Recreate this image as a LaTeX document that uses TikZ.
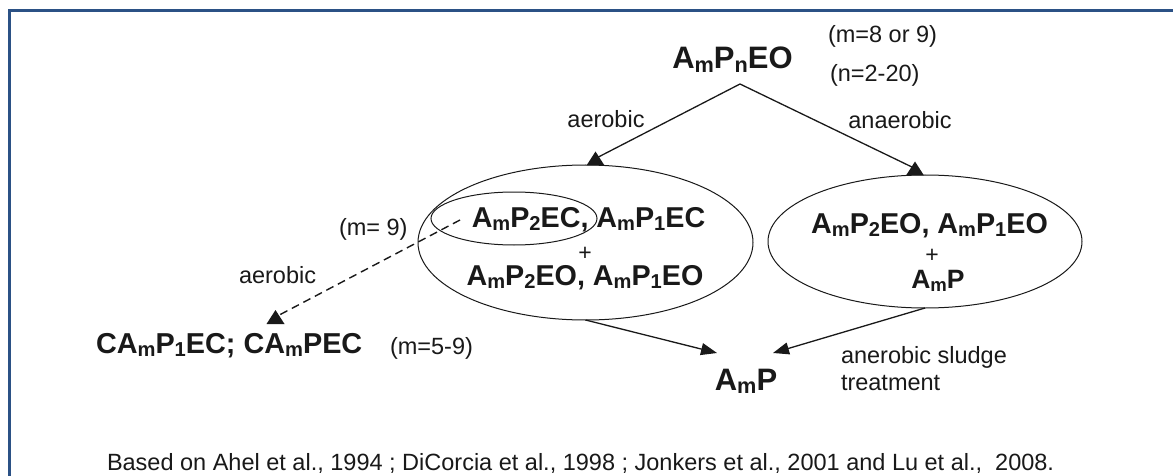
\documentclass[tikz,border=0pt]{standalone}
\usepackage{fontspec}
\setmainfont{Liberation Sans}
\usetikzlibrary{arrows.meta,shapes.geometric}
\newcommand{\sbx}[1]{\raisebox{-0.12em}{\scalebox{0.7}{#1}}}
\definecolor{frameblue}{RGB}{43,81,133}
\definecolor{ink}{RGB}{25,25,25}
\frenchspacing
\tikzset{
  uptri/.pic={\fill[ink] (0,-7) -- (-9,7) -- (9,7) -- cycle;}
}
\begin{document}
\begin{tikzpicture}[x=1pt,y=-1pt,
  every node/.style={inner sep=0pt, outer sep=0pt, text=ink},
  bigb/.style={font=\fontsize{31}{36}\selectfont\bfseries, anchor=base},
  midb/.style={font=\fontsize{28.7}{34}\selectfont\bfseries, anchor=base},
  smallb/.style={font=\fontsize{26.5}{32}\selectfont\bfseries, anchor=base},
  cab/.style={font=\fontsize{28.8}{33}\selectfont\bfseries, anchor=base west},
  lbl/.style={font=\fontsize{23.5}{27}\selectfont, anchor=base},
  lblw/.style={font=\fontsize{23.5}{27}\selectfont, anchor=base west},
  plus/.style={font=\fontsize{23}{25}\selectfont},
  oval/.style={draw=ink, ellipse, line width=1pt},
  conn/.style={draw=ink, line width=1.3pt},
  arr/.style={draw=ink, line width=1.3pt, -{Triangle[length=16pt,width=12pt]}},
  dconn/.style={draw=ink, line width=1.4pt, dash pattern=on 8pt off 5pt}
]
\useasboundingbox (0,0) rectangle (1173,476);
\fill[white] (0,0) rectangle (1173,476);
\draw[frameblue, line width=3pt] (9,476) -- (9,10.5) -- (1173,10.5);

% top
\node[bigb] (top) at (732.5,69) {A\sbx{m}P\sbx{n}EO};
\node[lblw] (m89) at (828,43) {(m=8 or 9)};
\node[lblw] (n220) at (830,82) {(n=2-20)};
\node[lbl] (aer1) at (606,128) {aerobic};
\node[lbl] (anaer) at (900,129) {anaerobic};

% ellipses
\node[oval, minimum width=335pt, minimum height=155pt] (L) at (585.5,242.5) {};
\node[oval, minimum width=166pt, minimum height=53pt] (S) at (514,218.5) {};
\node[oval, minimum width=314pt, minimum height=133pt] (R) at (925,241.5) {};

\node[midb] (L1) at (588.5,227) {A\sbx{m}P\sbx{2}EC, A\sbx{m}P\sbx{1}EC};
\node[plus] (Lp) at (585,254) {+};
\node[midb] (L2) at (585,285) {A\sbx{m}P\sbx{2}EO, A\sbx{m}P\sbx{1}EO};

\node[midb] (R1) at (929.5,233) {A\sbx{m}P\sbx{2}EO, A\sbx{m}P\sbx{1}EO};
\node[plus] (Rp) at (932,256) {+};
\node[smallb] (R2) at (938,288) {A\sbx{m}P};

% bottom
\node[bigb] (amp) at (746,390) {A\sbx{m}P};
\node[lblw] (sl1) at (841,363) {anerobic sludge};
\node[lblw] (sl2) at (841,390) {treatment};

% left
\node[lblw] (m9) at (339,235) {(m= 9)};
\node[lblw] (aer2) at (239,283) {aerobic};
\node[cab] (ca) at (96,353) {CA\sbx{m}P\sbx{1}EC; CA\sbx{m}PEC};
\node[lblw] (m59) at (390,354) {(m=5-9)};

% footer
\node[font=\fontsize{23.5}{27}\selectfont, anchor=base west] (foot) at (107,470)
  {Based on Ahel et al., 1994 ; DiCorcia et al., 1998 ; Jonkers et al., 2001 and Lu et al.,\ \ 2008.};

% connectors
\coordinate (apex) at (740,84);
\coordinate (tL) at (595.5,158.5);
\coordinate (tR) at (915,168.5);
\coordinate (dstart) at (460,220);
\coordinate (tD) at (275.5,317);
\coordinate (ampL) at (717,353);
\coordinate (ampR) at (773,353);

\draw[conn] (apex) -- (tL);
\draw[conn] (apex) -- (tR);
\draw[dconn] (dstart) -- (tD);
\pic at (tL) {uptri};
\pic at (tR) {uptri};
\pic at (tD) {uptri};

\draw[arr] (L.south) -- (ampL);
\draw[arr] (R.south) -- (ampR);
\end{tikzpicture}
\end{document}
